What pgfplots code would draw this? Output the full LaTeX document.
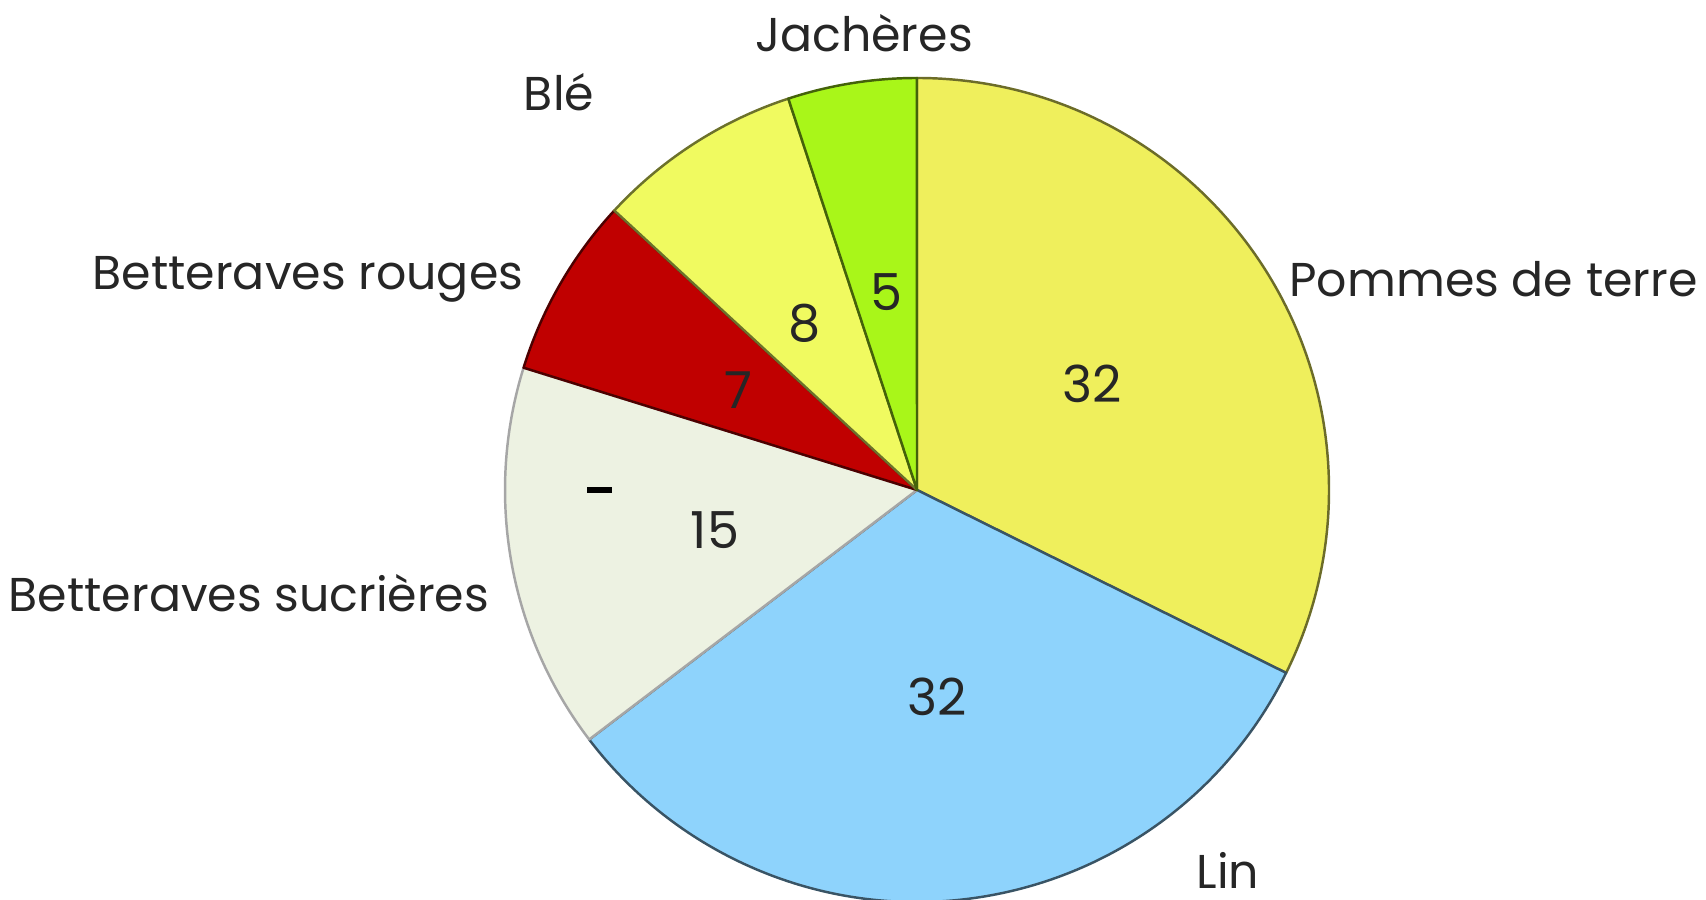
\documentclass[border=0pt]{standalone}
\usepackage{pgfplots}
\pgfplotsset{compat=1.18}
\usepackage{pgfplotstable}
\usepackage{fontspec}
\setmainfont{Poppins}
\definecolor{pdt}{HTML}{EFEF5C}
\definecolor{lin}{HTML}{8ED3FC}
\definecolor{sucr}{HTML}{EDF2E2}
\definecolor{rouge}{HTML}{C00000}
\definecolor{ble}{HTML}{F0FA60}
\definecolor{jach}{HTML}{A9F619}
\definecolor{txt}{HTML}{262626}

% slices clockwise from 12 o'clock; nx/ny = value label position (px, y up)
\pgfplotstableread{
v  col   edge      nx    ny
32 pdt   pdt!45!black  1092  516
32 lin   lin!40!black   937  203
15 sucr  gray!70        715  370
7  rouge rouge!40!black 738  510
8  ble   ble!45!black   805  577
5  jach  jach!40!black  886  608
}\pie

\begin{document}
\begin{tikzpicture}
\begin{axis}[
  hide axis, scale only axis,
  width=17.06cm, height=9cm,
  xmin=0, xmax=1706, ymin=0, ymax=900,
  clip=true,
]
\path (axis cs:0,0) rectangle (axis cs:1706,900);
\def\astart{90}
\pgfplotsforeachungrouped \i in {0,...,5}{
  \pgfplotstablegetelem{\i}{v}\of\pie \let\val\pgfplotsretval
  \pgfplotstablegetelem{\i}{col}\of\pie \let\col\pgfplotsretval
  \pgfplotstablegetelem{\i}{edge}\of\pie \let\edg\pgfplotsretval
  \pgfplotstablegetelem{\i}{nx}\of\pie \let\nx\pgfplotsretval
  \pgfplotstablegetelem{\i}{ny}\of\pie \let\ny\pgfplotsretval
  \pgfmathsetmacro\aend{\astart-\val/99*360}
  \edef\cmd{%
    \noexpand\filldraw[fill=\col, draw=\edg, line width=0.7pt, line join=round]
      (axis cs:917,410) -- ([shift={(\astart:4.12cm)}]axis cs:917,410)
      arc[start angle=\astart, end angle=\aend, radius=4.12cm] -- cycle;
    \noexpand\node[txt, font=\noexpand\fontsize{14.5}{16}\noexpand\selectfont]
      at (axis cs:\nx,\ny) {\val};
  }
  \cmd
  \let\astart\aend
}
\fill[black] (axis cs:587,407) rectangle (axis cs:612,413);
\begin{scope}[every node/.style={txt, font=\fontsize{13.5}{15}\selectfont}]
\node at (axis cs:864,867) {Jachères};
\node at (axis cs:559,808) {Blé};
\node at (axis cs:308,621) {Betteraves rouges};
\node[anchor=west] at (axis cs:1277,621) {Pommes de terre};
\node at (axis cs:249,307) {Betteraves sucrières};
\node at (axis cs:1228,30) {Lin};
\end{scope}
\end{axis}
\end{tikzpicture}
\end{document}
